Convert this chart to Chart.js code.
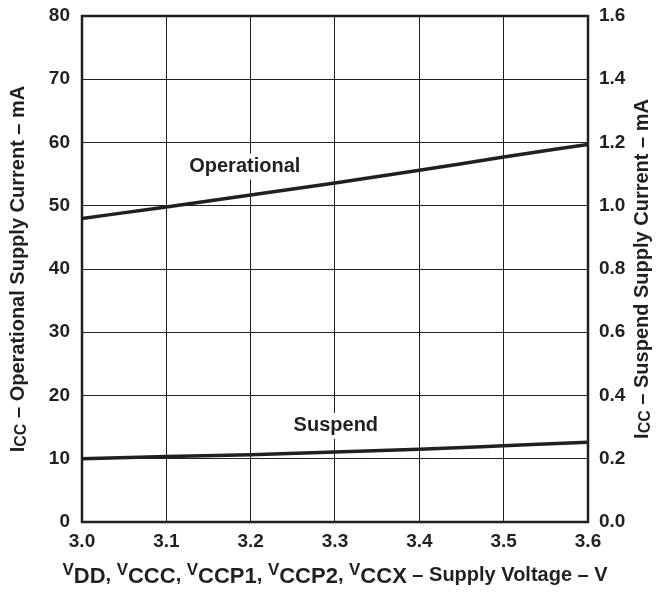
<!DOCTYPE html>
<html>
<head>
<meta charset="utf-8">
<script src="https://cdn.jsdelivr.net/npm/chart.js@4.4.0/dist/chart.umd.min.js"></script>
<style>
  html, body { margin: 0; padding: 0; background: #fff; }
  #wrap { width: 664px; height: 592px; }
</style>
</head>
<body>
<div id="wrap"><canvas id="iccChart" width="664" height="592"></canvas></div>
<script>
const voltage = [3.0, 3.1, 3.2, 3.3, 3.4, 3.5, 3.6];
const operationalMA = [48.0, 49.8, 51.7, 53.6, 55.6, 57.7, 59.7];
const suspendMA = [0.200, 0.207, 0.213, 0.221, 0.230, 0.241, 0.252];
const leftTicks = [0, 10, 20, 30, 40, 50, 60, 70, 80];
const rightTicks = [0.0, 0.2, 0.4, 0.6, 0.8, 1.0, 1.2, 1.4, 1.6];

const ink = '#231f20';
const fam = 'Liberation Sans, Arial, sans-serif';

// title pieces: [text, kind] kind: n = normal, s = subscript, v = small raised V
const leftTitle = [['I', 'n'], ['CC', 's'], [' – Operational Supply Current – mA', 'n']];
const rightTitle = [['I', 'n'], ['CC', 's'], [' – Suspend Supply Current – mA', 'n']];
const bottomTitle = [
  ['V', 'v'], ['DD', 'x'], [', ', 'n'],
  ['V', 'v'], ['CCC', 'x'], [', ', 'n'],
  ['V', 'v'], ['CCP1', 'x'], [', ', 'n'],
  ['V', 'v'], ['CCP2', 'x'], [', ', 'n'],
  ['V', 'v'], ['CCX', 'x'], [' – Supply Voltage – V', 'n']
];

const pieceStyle = {
  n: { size: 20, dy: 0 },
  s: { size: 16, dy: 2 },
  x: { size: 22, dy: 2 },
  v: { size: 17, dy: -6 }
};

function drawRich(ctx, parts, cx, cy) {
  let total = 0;
  parts.forEach(p => {
    ctx.font = 'bold ' + pieceStyle[p[1]].size + 'px ' + fam;
    total += ctx.measureText(p[0]).width;
  });
  let x = cx - total / 2;
  parts.forEach(p => {
    const st = pieceStyle[p[1]];
    ctx.font = 'bold ' + st.size + 'px ' + fam;
    ctx.fillText(p[0], x, cy + st.dy);
    x += ctx.measureText(p[0]).width;
  });
}

// keep the plot frame where the reference has it
function noOverflow(s) {
  s.paddingTop = 0;
  s.paddingBottom = 0;
}

const decorPlugin = {
  id: 'decor',
  beforeDatasetsDraw(chart) {
    const ctx = chart.ctx;
    const xs = chart.scales.x, ys = chart.scales.y;
    ctx.save();
    ctx.font = 'bold 20px ' + fam;
    ctx.textAlign = 'center';
    ctx.textBaseline = 'middle';
    [['Operational', 3.193, 56.2], ['Suspend', 3.301, 15.2]].forEach(l => {
      const px = xs.getPixelForValue(l[1]);
      const py = ys.getPixelForValue(l[2]);
      const w = ctx.measureText(l[0]).width;
      ctx.fillStyle = '#fff';
      ctx.fillRect(px - w / 2 - 5, py - 13, w + 10, 26);
      ctx.fillStyle = ink;
      ctx.fillText(l[0], px, py);
    });
    ctx.restore();
  },
  afterDatasetsDraw(chart) {
    const ctx = chart.ctx;
    const a = chart.chartArea;
    ctx.save();
    ctx.strokeStyle = ink;
    ctx.lineWidth = 2.5;
    ctx.strokeRect(a.left, a.top, a.right - a.left, a.bottom - a.top);
    ctx.restore();
  },
  afterDraw(chart) {
    const ctx = chart.ctx;
    const a = chart.chartArea;
    ctx.save();
    ctx.fillStyle = ink;
    ctx.textAlign = 'left';
    ctx.textBaseline = 'alphabetic';
    drawRich(ctx, bottomTitle, (a.left + a.right) / 2, 581);
    const midY = (a.top + a.bottom) / 2;
    ctx.translate(24, midY);
    ctx.rotate(-Math.PI / 2);
    drawRich(ctx, leftTitle, 0, 0);
    ctx.restore();
    ctx.save();
    ctx.fillStyle = ink;
    ctx.translate(648, midY);
    ctx.rotate(-Math.PI / 2);
    drawRich(ctx, rightTitle, 0, 0);
    ctx.restore();
  }
};

const tickFont = { family: fam, size: 19, weight: 'bold' };

new Chart(document.getElementById('iccChart'), {
  type: 'line',
  data: {
    datasets: [{
      label: 'Operational',
      data: voltage.map((v, i) => ({ x: v, y: operationalMA[i] })),
      yAxisID: 'y',
      borderColor: ink,
      borderWidth: 3.5,
      pointRadius: 0,
      cubicInterpolationMode: 'monotone'
    }, {
      label: 'Suspend',
      data: voltage.map((v, i) => ({ x: v, y: suspendMA[i] })),
      yAxisID: 'y1',
      borderColor: ink,
      borderWidth: 3.5,
      pointRadius: 0,
      cubicInterpolationMode: 'monotone'
    }]
  },
  options: {
    responsive: false,
    animation: false,
    layout: { padding: { top: 16, left: 0, right: 0, bottom: 0 } },
    plugins: { legend: { display: false }, tooltip: { enabled: false } },
    scales: {
      x: {
        type: 'linear',
        min: 3.0,
        max: 3.6,
        afterBuildTicks: s => { s.ticks = voltage.map(v => ({ value: v })); },
        afterFit: s => { s.height = 70; },
        ticks: { color: ink, font: tickFont, padding: 8, maxRotation: 0,
          callback: v => Number(v).toFixed(1) },
        grid: { color: ink, lineWidth: 1, drawTicks: false },
        border: { display: false }
      },
      y: {
        position: 'left',
        min: 0,
        max: 80,
        afterBuildTicks: s => { s.ticks = leftTicks.map(v => ({ value: v })); },
        afterFit: s => { s.width = 82; noOverflow(s); },
        ticks: { color: ink, font: tickFont, padding: 12 },
        grid: { color: ink, lineWidth: 1, drawTicks: false },
        border: { display: false }
      },
      y1: {
        position: 'right',
        min: 0,
        max: 1.6,
        afterBuildTicks: s => { s.ticks = rightTicks.map(v => ({ value: v })); },
        afterFit: s => { s.width = 76; noOverflow(s); },
        ticks: { color: ink, font: tickFont, padding: 11,
          callback: v => Number(v).toFixed(1) },
        grid: { display: false, drawTicks: false },
        border: { display: false }
      }
    }
  },
  plugins: [decorPlugin]
});
</script>
</body>
</html>
